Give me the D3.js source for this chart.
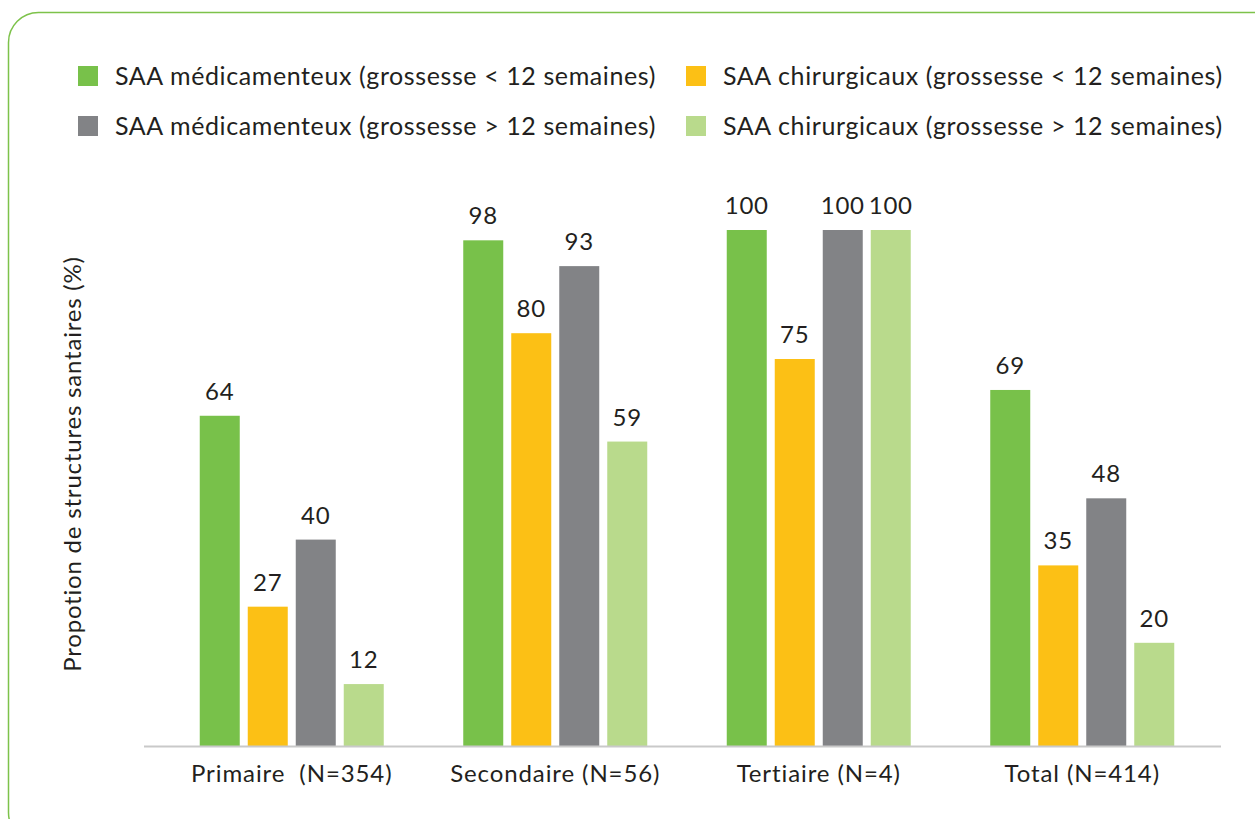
<!DOCTYPE html>
<html>
<head>
<meta charset="utf-8">
<script src="https://cdn.jsdelivr.net/npm/d3@7"></script>
<style>
  html, body { margin: 0; padding: 0; background: #fff; }
  svg { display: block; }
  text { font-family: Lato, "Open Sans", sans-serif; fill: #231f20; }
</style>
</head>
<body>
<svg id="chart" width="1255" height="819"></svg>
<script>
const categories = ["Primaire  (N=354)", "Secondaire (N=56)", "Tertiaire (N=4)", "Total (N=414)"];
const seriesNames = [
  "SAA médicamenteux (grossesse < 12 semaines)",
  "SAA chirurgicaux (grossesse < 12 semaines)",
  "SAA médicamenteux (grossesse > 12 semaines)",
  "SAA chirurgicaux (grossesse > 12 semaines)"
];
const seriesColors = ["#78c14a", "#fcc015", "#828386", "#b9da8c"];
const medLt12 = [64, 98, 100, 69];
const chirLt12 = [27, 80, 75, 35];
const medGt12 = [40, 93, 100, 48];
const chirGt12 = [12, 59, 100, 20];
const seriesValues = [medLt12, chirLt12, medGt12, chirGt12];
const yLabel = "Propotion de structures santaires (%)";
// legend order: column-major as in the picture
const legendOrder = [0, 2, 1, 3];

const svg = d3.select("#chart");

// frame
svg.append("rect")
  .attr("x", 8.5).attr("y", 12.5)
  .attr("width", 1275).attr("height", 830)
  .attr("rx", 30).attr("ry", 30)
  .attr("fill", "none")
  .attr("stroke", "#7dc24a")
  .attr("stroke-width", 1.5);

const baseY = 746;
const y = d3.scaleLinear().domain([0, 100]).range([baseY, 230]);
const x0 = d3.scaleBand().domain(categories).range([160, 1214]).paddingInner(0).paddingOuter(0);
const x1 = d3.scaleBand().domain(d3.range(4)).range([0, 184]).paddingInner(8 / 48).paddingOuter(0);

const groups = svg.append("g").selectAll("g")
  .data(categories)
  .join("g")
  .attr("transform", (d) => `translate(${x0(d) + x0.bandwidth() / 2 - 92},0)`);

groups.each(function (cat, ci) {
  const g = d3.select(this);
  const data = seriesValues.map((vals, si) => ({ si, v: vals[ci] }));
  g.selectAll("rect")
    .data(data)
    .join("rect")
    .attr("x", (d) => x1(d.si))
    .attr("y", (d) => y(d.v))
    .attr("width", x1.bandwidth())
    .attr("height", (d) => baseY - y(d.v))
    .attr("fill", (d) => seriesColors[d.si]);
  g.selectAll("text.val")
    .data(data)
    .join("text")
    .attr("class", "val")
    .attr("x", (d) => x1(d.si) + x1.bandwidth() / 2)
    .attr("y", (d) => y(d.v) - 16)
    .attr("text-anchor", "middle")
    .attr("font-size", 24)
    .attr("letter-spacing", 0.8)
    .text((d) => d.v);
});

// baseline axis
const xAxis = d3.axisBottom(x0).tickSize(0).tickPadding(0);
const axG = svg.append("g").attr("transform", `translate(0,${baseY})`).call(xAxis);
axG.select(".domain").attr("d", "M144,0.5H1221").attr("stroke", "#c9c9c9").attr("stroke-width", 2);
axG.selectAll(".tick text")
  .attr("y", 36)
  .attr("dy", null)
  .attr("font-size", 24)
  .attr("letter-spacing", 0.9)
  .attr("font-family", "Lato, 'Open Sans', sans-serif")
  .attr("fill", "#231f20")
  .style("white-space", "pre");

// y label
svg.append("text")
  .attr("transform", "translate(81,464) rotate(-90)")
  .attr("text-anchor", "middle")
  .attr("font-size", 24)
  .attr("letter-spacing", 0.8)
  .text(yLabel);

// legend
const legend = svg.append("g");
legendOrder.forEach((si, k) => {
  const col = Math.floor(k / 2), row = k % 2;
  const lx = 78 + col * 608, ly = 66 + row * 50;
  legend.append("rect").attr("x", lx).attr("y", ly).attr("width", 20).attr("height", 20).attr("fill", seriesColors[si]);
  legend.append("text").attr("x", lx + 37).attr("y", ly + 19).attr("font-size", 25)
    .attr("letter-spacing", 0.6).text(seriesNames[si]);
});
</script>
</body>
</html>
